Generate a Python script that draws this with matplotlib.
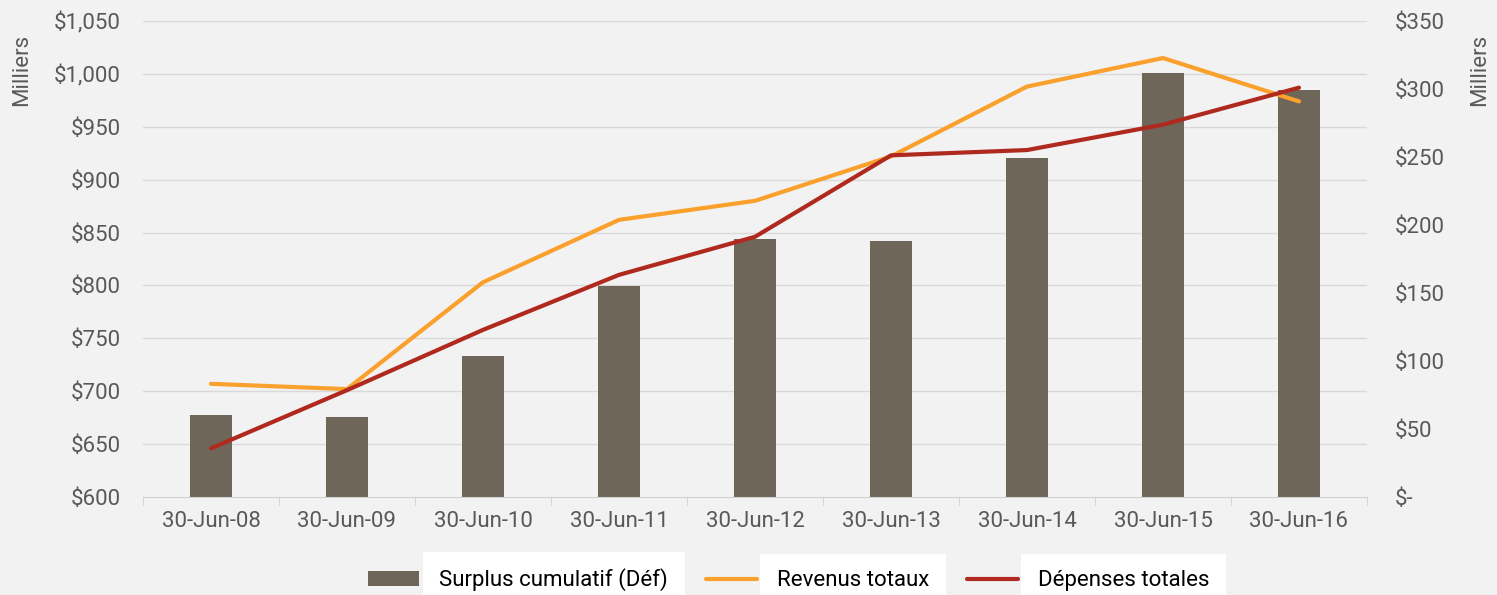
import matplotlib
matplotlib.use('Agg')
import matplotlib.pyplot as plt
import numpy as np

# Data (thousands of dollars)
dates = ['30-Jun-08', '30-Jun-09', '30-Jun-10', '30-Jun-11', '30-Jun-12',
         '30-Jun-13', '30-Jun-14', '30-Jun-15', '30-Jun-16']
surplus = [60, 59, 104, 155, 190, 188, 249, 312, 299]
revenus = [707, 702, 803, 862, 880, 922, 988, 1015, 974]
depenses = [646, 701, 758, 810, 846, 923, 928, 952, 987]

bg = '#f2f2f2'
txt = '#595959'
fs = 16
plt.rcParams['font.family'] = ['Roboto', 'DejaVu Sans']

fig = plt.figure(figsize=(14.97, 5.95), dpi=100, facecolor=bg)
ax = fig.add_axes([143 / 1497, 98 / 595, 1224 / 1497, 476 / 595])
ax.set_facecolor(bg)
ax2 = ax.twinx()

x = np.arange(len(dates))

# bars on the right axis
ax2.bar(x, surplus, width=0.31, color='#6e6658', zorder=2, label='Surplus cumulatif (Déf)')
ax2.set_ylim(0, 350)
ax2.set_yticks(np.arange(0, 351, 50))
ax2.set_yticklabels(['$-' if v == 0 else f'${v}' for v in range(0, 351, 50)])

# lines on the left axis, drawn above the bars
ax.set_zorder(ax2.get_zorder() + 1)
ax.patch.set_visible(False)
ax2.patch.set_visible(True)
ax2.patch.set_facecolor(bg)
ax2.set_zorder(0)
ax.plot(x, revenus, color='#f9a12c', lw=3, label='Revenus totaux', solid_capstyle='round')
ax.plot(x, depenses, color='#b0291f', lw=3, label='Dépenses totales', solid_capstyle='round')
ax.set_ylim(600, 1050)
ax.set_yticks(np.arange(600, 1051, 50))
ax.set_yticklabels([f'${v:,}' for v in range(600, 1051, 50)])

# gridlines for left axis, drawn on the back axes
for v in range(650, 1051, 50):
    ax2.axhline((v - 600) / 450 * 350, color='#d9d9d9', lw=1, zorder=1)

ax.set_xlim(-0.5, len(dates) - 0.5)
ax.set_xticks(x)
ax.set_xticklabels(dates)
ax.set_xticks(np.arange(-0.5, len(dates), 1), minor=True)
ax.tick_params(axis='x', which='major', length=0, pad=10, labelsize=fs, colors=txt)
ax.tick_params(axis='x', which='minor', length=6, color='#d0d0d0')
ax.tick_params(axis='y', length=0, pad=16, labelsize=fs, colors=txt)
ax2.yaxis.set_tick_params(which='major', length=0, pad=20, labelsize=fs, labelcolor=txt)

for a in (ax, ax2):
    for s in a.spines.values():
        s.set_visible(False)
ax.spines['bottom'].set_visible(True)
ax.spines['bottom'].set_color('#d0d0d0')

fig.text(22 / 1497, 1 - 70 / 595, 'Milliers', rotation=90, fontsize=fs, color=txt,
         ha='center', va='center')
fig.text(1480 / 1497, 1 - 70 / 595, 'Milliers', rotation=90, fontsize=fs, color=txt,
         ha='center', va='center')

# legend at the bottom
h2, l2 = ax2.get_legend_handles_labels()
h1, l1 = ax.get_legend_handles_labels()
leg = fig.legend(h2 + h1, l2 + l1, loc='center', ncol=3, frameon=False,
                 bbox_to_anchor=(0.527, 15 / 595), fontsize=fs, handlelength=2.3,
                 handleheight=0.7, columnspacing=1.7, handletextpad=0.9)
for t in leg.get_texts():
    t.set_color('black')
    t.set_bbox(dict(facecolor='white', edgecolor='none', pad=12))

fig.savefig('out.png', dpi=100, facecolor=bg)
